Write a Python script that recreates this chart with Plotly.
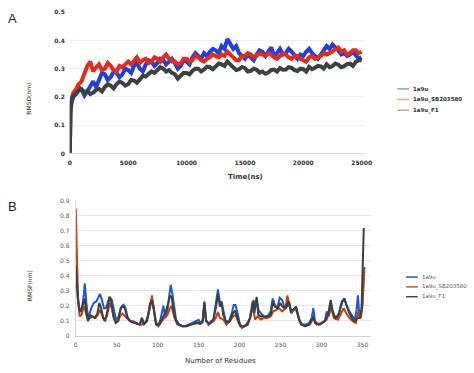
import plotly.graph_objects as go

# ---------------- Panel A: RMSD vs time ----------------
time_ns = [0, 50, 150, 300] + list(range(500, 25001, 250))

rmsd_1a9u = [0.0, 0.14, 0.18, 0.20,
             0.21, 0.235, 0.225, 0.205, 0.22, 0.24, 0.255, 0.235, 0.26, 0.285, 0.28, 0.26,
             0.27, 0.29, 0.285, 0.27, 0.28, 0.30, 0.295, 0.285, 0.31, 0.32, 0.30, 0.29,
             0.315, 0.33, 0.325, 0.31, 0.32, 0.335, 0.33, 0.315, 0.325, 0.335, 0.32, 0.30,
             0.31, 0.33, 0.325, 0.315, 0.34, 0.355, 0.345, 0.335, 0.355, 0.345, 0.36, 0.37,
             0.365, 0.355, 0.38, 0.37, 0.405, 0.385, 0.37, 0.38, 0.355, 0.345, 0.335, 0.35,
             0.34, 0.33, 0.35, 0.365, 0.36, 0.345, 0.36, 0.375, 0.345, 0.355, 0.37, 0.35,
             0.355, 0.37, 0.36, 0.345, 0.335, 0.35, 0.345, 0.36, 0.37, 0.355, 0.345, 0.335,
             0.35, 0.365, 0.38, 0.37, 0.385, 0.375, 0.365, 0.35, 0.355, 0.345, 0.35, 0.36,
             0.345, 0.335, 0.34]

rmsd_sb = [0.0, 0.16, 0.195, 0.215,
           0.225, 0.245, 0.255, 0.28, 0.31, 0.325, 0.29, 0.305, 0.315, 0.295, 0.30, 0.32,
           0.31, 0.295, 0.29, 0.31, 0.305, 0.315, 0.325, 0.315, 0.33, 0.34, 0.32, 0.33,
           0.335, 0.32, 0.325, 0.34, 0.335, 0.325, 0.34, 0.35, 0.335, 0.325, 0.325, 0.315,
           0.32, 0.335, 0.335, 0.325, 0.33, 0.345, 0.34, 0.33, 0.325, 0.335, 0.34, 0.35,
           0.345, 0.34, 0.35, 0.345, 0.36, 0.35, 0.34, 0.33, 0.33, 0.345, 0.345, 0.355,
           0.35, 0.34, 0.345, 0.355, 0.35, 0.345, 0.355, 0.35, 0.34, 0.335, 0.345, 0.355,
           0.35, 0.34, 0.335, 0.345, 0.345, 0.335, 0.33, 0.325, 0.34, 0.345, 0.335, 0.34,
           0.345, 0.355, 0.35, 0.355, 0.36, 0.37, 0.375, 0.36, 0.365, 0.35, 0.355, 0.365,
           0.365, 0.355, 0.36]

rmsd_f1 = [0.0, 0.16, 0.19, 0.205,
           0.21, 0.222, 0.228, 0.215, 0.222, 0.21, 0.215, 0.225, 0.228, 0.22, 0.235, 0.245,
           0.24, 0.23, 0.245, 0.255, 0.25, 0.24, 0.245, 0.26, 0.258, 0.25, 0.262, 0.275,
           0.272, 0.28, 0.29, 0.285, 0.295, 0.305, 0.30, 0.29, 0.295, 0.285, 0.28, 0.265,
           0.275, 0.285, 0.285, 0.28, 0.292, 0.30, 0.30, 0.29, 0.297, 0.307, 0.305, 0.298,
           0.308, 0.318, 0.315, 0.31, 0.325, 0.315, 0.305, 0.295, 0.298, 0.306, 0.302, 0.29,
           0.292, 0.30, 0.296, 0.286, 0.29, 0.282, 0.286, 0.295, 0.297, 0.29, 0.302, 0.296,
           0.297, 0.305, 0.303, 0.295, 0.292, 0.30, 0.298, 0.29, 0.306, 0.298, 0.303, 0.31,
           0.308, 0.30, 0.315, 0.305, 0.309, 0.318, 0.314, 0.305, 0.309, 0.316, 0.318, 0.31,
           0.324, 0.33, 0.33]

assert len(rmsd_1a9u) == len(time_ns), (len(rmsd_1a9u), len(time_ns))
assert len(rmsd_sb) == len(time_ns), (len(rmsd_sb), len(time_ns))
assert len(rmsd_f1) == len(time_ns), (len(rmsd_f1), len(time_ns))

# ---------------- Panel B: RMSF vs residue ----------------
res_1a9u = [0, 1, 2.4, 4, 6, 8, 10, 11, 13, 15, 17, 19, 22, 25, 27, 29.6, 32, 34.4, 36.8, 39,
            41.6, 44, 46.4, 48.8, 51, 53.6, 56, 58.4, 60.8, 63, 66, 70, 74, 78, 80.8, 83, 86,
            88.8, 91, 93, 95, 97.6, 100, 102.8, 105, 107, 109.6, 112, 114.4, 116, 118, 120,
            122.4, 126, 130, 134, 138, 142, 146, 150, 152.8, 155, 157, 159, 162, 165, 168,
            171, 173.6, 176, 178, 180, 183, 187, 190.4, 192.8, 195, 197.6, 200, 203, 206.4,
            210, 212.8, 215, 217, 219, 221, 223, 226, 230, 234, 238, 240.4, 243, 246, 249,
            252, 255, 258, 261, 263, 266, 269, 271, 273.6, 277, 281, 285, 288, 290, 292, 296,
            300, 304, 306.4, 308.8, 312, 314.4, 318, 322, 325.6, 328, 330.4, 334, 338, 340.8,
            342.8, 344.4, 346, 348, 350, 351, 352.4]
rmsf_1a9u = [0.38, 0.37, 0.25, 0.196, 0.164, 0.196, 0.28, 0.35, 0.22, 0.12, 0.15, 0.185, 0.22,
             0.23, 0.25, 0.28, 0.24, 0.185, 0.185, 0.22, 0.26, 0.24, 0.174, 0.12, 0.11, 0.15,
             0.196, 0.207, 0.185, 0.13, 0.098, 0.098, 0.087, 0.076, 0.12, 0.076, 0.098, 0.15,
             0.22, 0.23, 0.185, 0.098, 0.065, 0.098, 0.15, 0.2, 0.12, 0.174, 0.28, 0.34, 0.28,
             0.185, 0.11, 0.08, 0.065, 0.065, 0.075, 0.087, 0.095, 0.108, 0.08, 0.11, 0.23,
             0.11, 0.076, 0.098, 0.108, 0.22, 0.31, 0.22, 0.23, 0.174, 0.098, 0.098, 0.15,
             0.207, 0.207, 0.15, 0.087, 0.055, 0.065, 0.076, 0.12, 0.185, 0.24, 0.185, 0.25,
             0.174, 0.15, 0.13, 0.13, 0.164, 0.25, 0.207, 0.185, 0.255, 0.24, 0.185, 0.196,
             0.22, 0.15, 0.174, 0.196, 0.15, 0.098, 0.076, 0.076, 0.087, 0.12, 0.185, 0.098,
             0.076, 0.087, 0.098, 0.164, 0.13, 0.2, 0.15, 0.11, 0.164, 0.23, 0.24, 0.207,
             0.164, 0.13, 0.11, 0.174, 0.27, 0.15, 0.12, 0.2, 0.37, 0.46]

res_sb = [0, 1.6, 2.8, 4.8, 7, 10, 11, 13, 15, 18, 21, 24, 27, 29.6, 32, 34.4, 38, 41.6, 44, 47,
          51, 54, 57, 60, 64, 68, 74, 78, 83, 88, 91, 93, 95, 98, 100.8, 104.8, 108, 112, 115,
          117, 120, 124, 130, 136, 142, 148, 152, 155, 157, 159, 163, 168, 171, 173.6, 176,
          180, 184, 188, 192, 195, 199, 203, 208, 212.8, 216, 219, 222, 226, 230, 234, 238,
          241, 245, 248, 252, 256, 258.4, 261, 264, 268, 271, 274, 280, 286, 290, 294, 300,
          306, 312, 315, 320, 324, 327, 330.4, 334, 338, 342, 344.8, 347, 350, 352]
rmsf_sb = [0.85, 0.40, 0.25, 0.13, 0.14, 0.196, 0.185, 0.14, 0.11, 0.12, 0.13, 0.12, 0.14, 0.174,
           0.14, 0.11, 0.13, 0.22, 0.185, 0.11, 0.098, 0.13, 0.15, 0.13, 0.11, 0.098, 0.087,
           0.076, 0.076, 0.12, 0.196, 0.27, 0.2, 0.087, 0.065, 0.098, 0.12, 0.14, 0.185, 0.2,
           0.13, 0.076, 0.065, 0.07, 0.08, 0.085, 0.08, 0.09, 0.2, 0.1, 0.08, 0.098, 0.12,
           0.16, 0.12, 0.11, 0.076, 0.098, 0.13, 0.14, 0.087, 0.055, 0.076, 0.12, 0.196, 0.11,
           0.13, 0.11, 0.12, 0.12, 0.13, 0.164, 0.174, 0.185, 0.164, 0.185, 0.27, 0.196,
           0.164, 0.185, 0.14, 0.087, 0.065, 0.076, 0.12, 0.076, 0.087, 0.108, 0.185, 0.12,
           0.108, 0.15, 0.185, 0.15, 0.12, 0.098, 0.087, 0.164, 0.12, 0.22, 0.45]

res_f1 = [0, 2, 4, 6.4, 8.8, 10.8, 12.8, 15, 17.6, 20, 23, 26.4, 28.8, 31, 33.6, 36, 38.8, 41,
          43, 46, 48.8, 52, 54.8, 57.6, 60, 63, 66.4, 70, 74, 78, 81, 83, 87, 90.4, 92.8, 95,
          98, 102, 106, 110, 113, 115, 117, 119, 122.4, 126, 130, 136, 142, 148, 152, 155,
          157, 159, 163, 168, 171, 173.6, 176, 178, 180, 184, 188, 191, 194.4, 197.6, 200.8,
          205, 209.6, 212.8, 216, 218, 220.8, 222.8, 226, 230, 234, 238, 240.8, 243, 246.4,
          249.6, 252, 256, 260, 262.4, 265.6, 268.8, 272, 275, 280, 285, 288, 290, 292, 298,
          304, 308, 311.2, 313.6, 316.8, 320.8, 324.8, 328, 330.4, 334, 338, 340.8, 344,
          346.8, 348.8, 350.4, 351.6]
rmsf_f1 = [0.47, 0.28, 0.17, 0.164, 0.22, 0.25, 0.164, 0.098, 0.14, 0.13, 0.12, 0.15, 0.22,
           0.185, 0.12, 0.098, 0.174, 0.26, 0.24, 0.13, 0.087, 0.098, 0.185, 0.196, 0.185,
           0.12, 0.098, 0.09, 0.085, 0.076, 0.12, 0.076, 0.1, 0.207, 0.24, 0.185, 0.076,
           0.076, 0.12, 0.164, 0.22, 0.27, 0.26, 0.185, 0.098, 0.075, 0.065, 0.065, 0.08,
           0.09, 0.085, 0.1, 0.22, 0.1, 0.08, 0.108, 0.185, 0.28, 0.196, 0.22, 0.141, 0.087,
           0.098, 0.141, 0.17, 0.12, 0.065, 0.065, 0.076, 0.12, 0.23, 0.15, 0.26, 0.141,
           0.13, 0.13, 0.13, 0.141, 0.23, 0.196, 0.185, 0.22, 0.196, 0.185, 0.23, 0.164,
           0.174, 0.196, 0.12, 0.076, 0.065, 0.076, 0.108, 0.13, 0.087, 0.076, 0.098, 0.141,
           0.24, 0.164, 0.12, 0.141, 0.23, 0.25, 0.207, 0.15, 0.11, 0.098, 0.12, 0.12,
           0.174, 0.47, 0.72]

names = ["1a9u", "1a9u_SB203580", "1a9u_F1"]
time_ticks = [0, 5000, 10000, 15000, 20000, 25000]
time_tick_text = ["0", "5000", "10000", "15000", "20000", "25000"]
res_ticks = [0, 50, 100, 150, 200, 250, 300, 350]
rmsd_ticks = [0, 0.1, 0.2, 0.3, 0.4, 0.5]
rmsd_tick_text = ["0", "0.1", "0.2", "0.3", "0.4", "0.5"]
rmsf_ticks = [0, 0.1, 0.2, 0.3, 0.4, 0.5, 0.6, 0.7, 0.8, 0.9]
rmsf_tick_text = ["0", "0.1", "0.2", "0.3", "0.4", "0.5", "0.6", "0.7", "0.8", "0.9"]

colors_a = ["#1f3fe0", "#e32a1c", "#3b4243"]
colors_b = ["#1c56d2", "#c9400f", "#394040"]
legend_a_colors = ["#86aab3", "#d9b175", "#b3aba3"]
legend_b_colors = ["#2453c2", "#b5652f", "#404747"]

W, H = 474, 373
def px(x):
    return x / W
def py(y):
    return 1 - y / H

fig = go.Figure()
for xs, ys, n, c in [(time_ns, rmsd_1a9u, names[0], colors_a[0]),
                     (time_ns, rmsd_sb, names[1], colors_a[1]),
                     (time_ns, rmsd_f1, names[2], colors_a[2])]:
    fig.add_trace(go.Scatter(x=xs, y=ys, name=n, mode="lines", showlegend=False,
                             line=dict(color=c, width=4), xaxis="x", yaxis="y"))
for xs, ys, n, c in [(res_1a9u, rmsf_1a9u, names[0], colors_b[0]),
                     (res_sb, rmsf_sb, names[1], colors_b[1]),
                     (res_f1, rmsf_f1, names[2], colors_b[2])]:
    fig.add_trace(go.Scatter(x=xs, y=ys, name=n, mode="lines", showlegend=False,
                             line=dict(color=c, width=2), xaxis="x2", yaxis="y2"))

tick_a = dict(family="DejaVu Sans", size=6, color="#333333", weight="bold")
tick_b = dict(family="DejaVu Sans", size=6, color="#555555")

fig.update_layout(
    width=W, height=H, margin=dict(l=0, r=0, t=0, b=0),
    paper_bgcolor="white", plot_bgcolor="white", showlegend=False,
    xaxis=dict(domain=[px(69), px(370)], range=[0, 25350], tickvals=time_ticks, ticktext=time_tick_text,
               showgrid=False, showline=True, linecolor="#dcdcdc", linewidth=1, zeroline=False,
               tickfont=tick_a, ticks="", ticklabelstandoff=3),
    yaxis=dict(domain=[py(152.3), py(8.3)], range=[0, 0.5], tickvals=rmsd_ticks, ticktext=rmsd_tick_text,
               showgrid=True, gridcolor="#efefef", gridwidth=1, showline=False, zeroline=False,
               tickfont=tick_a, ticks="", ticklabelstandoff=4),
    xaxis2=dict(domain=[px(75), px(375)], range=[0, 360], tickvals=res_ticks,
                showgrid=False, showline=True, linecolor="#cfcfcf", linewidth=1, zeroline=False,
                tickfont=tick_b, ticks="", ticklabelstandoff=3, anchor="y2"),
    yaxis2=dict(domain=[py(338.3), py(200.7)], range=[0, 0.9],
                tickvals=rmsf_ticks, ticktext=rmsf_tick_text,
                showgrid=True, gridcolor="#e6e6e6", gridwidth=1, showline=True, linecolor="#d5d5d5",
                zeroline=False, tickfont=tick_b, ticks="", ticklabelstandoff=4, anchor="x2"),
)

ann = []
ann.append(dict(text="A", x=px(4), y=py(15), xref="paper", yref="paper", showarrow=False,
                xanchor="left", yanchor="middle", font=dict(family="Liberation Sans", size=13, color="#222")))
ann.append(dict(text="B", x=px(4), y=py(206), xref="paper", yref="paper", showarrow=False,
                xanchor="left", yanchor="middle", font=dict(family="Liberation Sans", size=13, color="#222")))
ann.append(dict(text="Time(ns)", x=px(248), y=py(176), xref="paper", yref="paper", showarrow=False,
                xanchor="center", yanchor="middle",
                font=dict(family="DejaVu Sans", size=7, color="#333", weight="bold")))
ann.append(dict(text="RMSD(nm)", x=px(27), y=py(97), xref="paper", yref="paper", showarrow=False,
                textangle=-90, xanchor="center", yanchor="middle",
                font=dict(family="DejaVu Sans", size=6, color="#333")))
ann.append(dict(text="RMSF(nm)", x=px(28), y=py(287), xref="paper", yref="paper", showarrow=False,
                textangle=-90, xanchor="center", yanchor="middle",
                font=dict(family="DejaVu Sans", size=6, color="#333")))
ann.append(dict(text="Number of Residues", x=px(222), y=py(364), xref="paper", yref="paper",
                showarrow=False, xanchor="center", yanchor="middle",
                font=dict(family="DejaVu Sans", size=7, color="#333")))

shapes = []
ya = [86.5, 97.3, 108.3]
for i, n in enumerate(names):
    shapes.append(dict(type="line", xref="paper", yref="paper", x0=px(402), x1=px(414),
                       y0=py(ya[i]), y1=py(ya[i]), line=dict(color=legend_a_colors[i], width=1.5)))
    ann.append(dict(text=n, x=px(416.5), y=py(ya[i]), xref="paper", yref="paper", showarrow=False,
                    xanchor="left", yanchor="middle",
                    font=dict(family="DejaVu Sans", size=5.5, color="#333", weight="bold")))
yb = [278.3, 288.3, 298.3]
for i, n in enumerate(names):
    shapes.append(dict(type="line", xref="paper", yref="paper", x0=px(411), x1=px(423),
                       y0=py(yb[i]), y1=py(yb[i]), line=dict(color=legend_b_colors[i], width=1.5)))
    ann.append(dict(text=n, x=px(425.5), y=py(yb[i]), xref="paper", yref="paper", showarrow=False,
                    xanchor="left", yanchor="middle",
                    font=dict(family="DejaVu Sans", size=5.5, color="#555")))

fig.update_layout(annotations=ann, shapes=shapes)
fig.write_html("out.html", config={"displayModeBar": False},
               post_script="document.body.style.margin='0';")
